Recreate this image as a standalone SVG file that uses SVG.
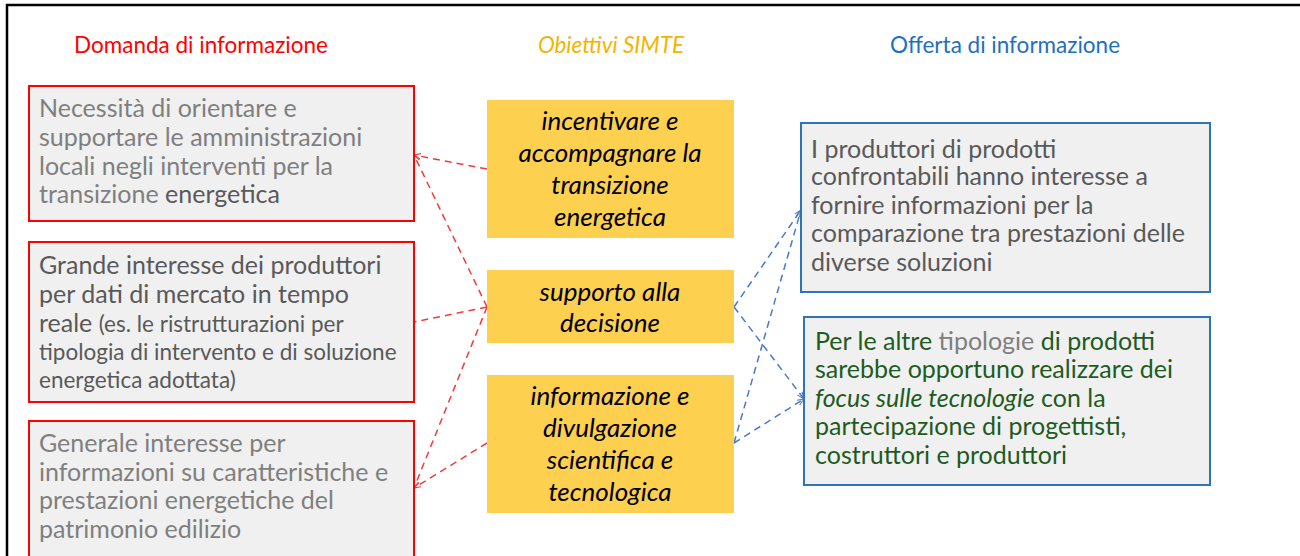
<svg xmlns="http://www.w3.org/2000/svg" width="1300" height="556" viewBox="0 0 1300 556">
<style>
text{font-family:Lato,"Liberation Sans",sans-serif}
.hd{font-size:22.5px}
.bx{fill:#f0f0f0;stroke-width:2}
.red{stroke:#ff0000}
.blue{stroke:#2e75b6}
.yel{fill:#fdd04f}
.t{font-size:25px}
.s{font-size:22.5px}
.g1{fill:#7f7f7f}
.g2{fill:#595959}
.yt{font-size:26px;font-style:italic;fill:#000;text-anchor:middle}
.gr{fill:#1e5b1e}
.cr{fill:none;stroke:#f03c3c;stroke-width:1.5;stroke-dasharray:7 5}
.cb{fill:none;stroke:#4a78c8;stroke-width:1.5;stroke-dasharray:7 5}
</style>
<defs>
<marker id="ar" viewBox="0 0 10 10" refX="10" refY="5" markerWidth="7" markerHeight="7" orient="auto" markerUnits="userSpaceOnUse"><path d="M0,1 L10,5 L0,9" fill="none" stroke="#f03c3c" stroke-width="1.5"/></marker>
<marker id="ab" viewBox="0 0 10 10" refX="10" refY="5" markerWidth="7" markerHeight="7" orient="auto" markerUnits="userSpaceOnUse"><path d="M0,1 L10,5 L0,9" fill="none" stroke="#4a78c8" stroke-width="1.5"/></marker>
</defs>
<rect width="1300" height="556" fill="#fff"/>
<path d="M7,556 V5 H1300" fill="none" stroke="#000" stroke-width="2.5"/>
<g id="headers">
<text class="hd" x="201" y="53" text-anchor="middle" fill="#ff0000">Domanda di informazione</text>
<text class="hd" x="611" y="53" text-anchor="middle" fill="#f2b400" font-style="italic">Obiettivi SIMTE</text>
<text class="hd" x="1005" y="53" text-anchor="middle" fill="#1f6fbf">Offerta di informazione</text>
</g>
<g id="connectors">
<path class="cr" d="M487,169 L414,155" marker-end="url(#ar)"/>
<path class="cr" d="M487,307 L414,155" marker-end="url(#ar)"/>
<path class="cr" d="M487,307 L414,322"/>
<path class="cr" d="M487,307 L414,488" marker-end="url(#ar)"/>
<path class="cr" d="M487,443 L414,488" marker-end="url(#ar)"/>
<path class="cb" d="M734,307 L801,210" marker-end="url(#ab)"/>
<path class="cb" d="M734,443 L801,210" marker-end="url(#ab)"/>
<path class="cb" d="M734,307 L804,399" marker-end="url(#ab)"/>
<path class="cb" d="M734,443 L804,399" marker-end="url(#ab)"/>
</g>
<g id="d1">
<rect class="bx red" x="29" y="86" width="385" height="135"/>
<text class="t g1"><tspan x="39" y="117">Necessità di orientare e</tspan><tspan x="39" y="146">supportare le amministrazioni</tspan><tspan x="39" y="175">locali negli interventi per la</tspan><tspan x="39" y="203">transizione <tspan class="g2">energetica</tspan></tspan></text>
</g>
<g id="d2">
<rect class="bx red" x="29" y="242" width="385" height="160"/>
<text class="t g2"><tspan x="39" y="274">Grande interesse dei produttori</tspan><tspan x="39" y="303">per dati di mercato in tempo</tspan><tspan x="39" y="332">reale <tspan class="s">(es. le ristrutturazioni per</tspan></tspan><tspan x="39" y="360" class="s">tipologia di intervento e di soluzione</tspan><tspan x="39" y="388" class="s">energetica adottata)</tspan></text>
</g>
<g id="d3">
<rect class="bx red" x="29" y="421" width="385" height="145"/>
<text class="t g1"><tspan x="39" y="452">Generale interesse per</tspan><tspan x="39" y="481">informazioni su caratteristiche e</tspan><tspan x="39" y="509">prestazioni energetiche del</tspan><tspan x="39" y="538">patrimonio edilizio</tspan></text>
</g>
<g id="o1">
<rect class="yel" x="487" y="100" width="247" height="138"/>
<text class="yt"><tspan x="610" y="130">incentivare e</tspan><tspan x="610" y="162">accompagnare la</tspan><tspan x="610" y="194">transizione</tspan><tspan x="610" y="226">energetica</tspan></text>
</g>
<g id="o2">
<rect class="yel" x="487" y="270" width="247" height="73"/>
<text class="yt"><tspan x="610" y="301">supporto alla</tspan><tspan x="610" y="332">decisione</tspan></text>
</g>
<g id="o3">
<rect class="yel" x="487" y="375" width="247" height="138"/>
<text class="yt"><tspan x="610" y="405">informazione e</tspan><tspan x="610" y="437">divulgazione</tspan><tspan x="610" y="469">scientifica e</tspan><tspan x="610" y="501">tecnologica</tspan></text>
</g>
<g id="s1">
<rect class="bx blue" x="801" y="123" width="409" height="169"/>
<text class="t g2"><tspan x="811" y="158">I produttori di prodotti</tspan><tspan x="811" y="185">confrontabili hanno interesse a</tspan><tspan x="811" y="214">fornire informazioni per la</tspan><tspan x="811" y="242">comparazione tra prestazioni delle</tspan><tspan x="811" y="271">diverse soluzioni</tspan></text>
</g>
<g id="s2">
<rect class="bx blue" x="804" y="317" width="406" height="168"/>
<text class="t gr"><tspan x="815" y="350">Per le altre <tspan class="g1">tipologie</tspan> di prodotti</tspan><tspan x="815" y="378">sarebbe opportuno realizzare dei</tspan><tspan x="815" y="407"><tspan font-style="italic">focus sulle tecnologie</tspan> con la</tspan><tspan x="815" y="435">partecipazione di progettisti,</tspan><tspan x="815" y="464">costruttori e produttori</tspan></text>
</g>
</svg>
